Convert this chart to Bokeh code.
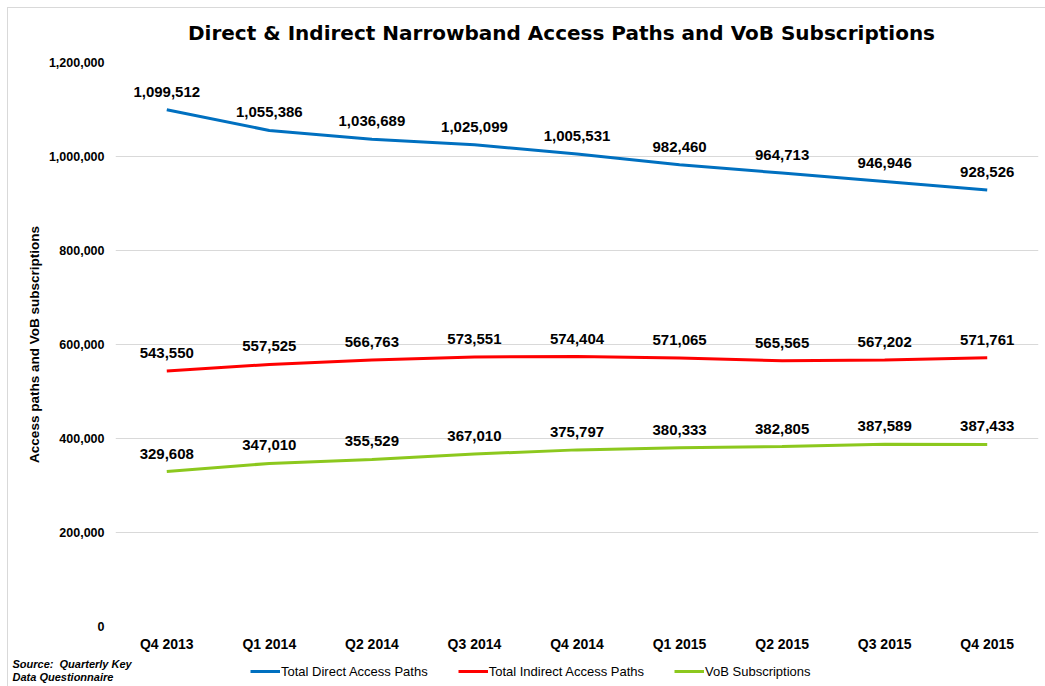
from bokeh.plotting import figure
from bokeh.layouts import column
from bokeh.models import (ColumnDataSource, FixedTicker, NumeralTickFormatter, Legend,
                          LegendItem, Label, Range1d)
from bokeh.core.properties import value
from bokeh.embed import file_html
from bokeh.resources import INLINE

title_text = "Direct & Indirect Narrowband Access Paths and VoB Subscriptions"
source_lines = ["Source:\u00a0 Quarterly Key", "Data Questionnaire"]
quarters = ["Q4 2013", "Q1 2014", "Q2 2014", "Q3 2014", "Q4 2014",
            "Q1 2015", "Q2 2015", "Q3 2015", "Q4 2015"]
direct = [1099512, 1055386, 1036689, 1025099, 1005531, 982460, 964713, 946946, 928526]
indirect = [543550, 557525, 566763, 573551, 574404, 571065, 565565, 567202, 571761]
vob = [329608, 347010, 355529, 367010, 375797, 380333, 382805, 387589, 387433]
y_ticks = [0, 200000, 400000, 600000, 800000, 1000000, 1200000]

series = [
    ("Total Direct Access Paths", direct, "#0070C0"),
    ("Total Indirect Access Paths", indirect, "#FF0000"),
    ("VoB Subscriptions", vob, "#8CC81E"),
]


def strip(height):
    s = figure(width=1037, height=height, x_range=Range1d(0, 1), y_range=Range1d(0, 1),
               output_backend="svg", toolbar_location=None, x_axis_type=None,
               y_axis_type=None, min_border=0, outline_line_color=None)
    s.frame_align = False
    s.xgrid.visible = False
    s.ygrid.visible = False
    return s


# header with title
h = strip(46)
h.add_layout(Label(x=553, y=22, x_units="screen", y_units="screen", text=title_text,
                   text_font="DejaVu Sans", text_font_size="20px", text_font_style="bold",
                   text_align="center", text_baseline="middle", text_color="#000000"))

# main chart
p = figure(width=1037, height=600, x_range=quarters, y_range=Range1d(0, 1200000),
           output_backend="svg", toolbar_location=None,
           min_border_left=107, min_border_right=7, min_border_top=8, min_border_bottom=28)
p.frame_align = False
p.outline_line_color = None
p.background_fill_color = "white"

for name, vals, color in series:
    src = ColumnDataSource(dict(x=quarters, y=vals, lab=["{:,}".format(v) for v in vals]))
    p.line("x", "y", source=src, line_color=color, line_width=3)
    p.text("x", "y", text="lab", source=src, text_align="center", text_baseline="middle",
           y_offset=-18, text_font=value("Liberation Sans"), text_font_size="15px",
           text_font_style="bold", text_color="#000000")

p.yaxis.ticker = FixedTicker(ticks=y_ticks)
p.yaxis.formatter = NumeralTickFormatter(format="0,0")
p.yaxis.axis_label = "Access paths and VoB subscriptions"
p.yaxis.axis_label_text_font = "Liberation Sans"
p.yaxis.axis_label_text_font_size = "13.5px"
p.yaxis.axis_label_text_font_style = "bold"
p.yaxis.axis_label_text_color = "#000000"
p.yaxis.axis_label_standoff = 4
for ax in (p.xaxis, p.yaxis):
    ax.axis_line_color = None
    ax.major_tick_line_color = None
    ax.minor_tick_line_color = None
    ax.major_tick_out = 0
    ax.major_tick_in = 0
    ax.major_label_text_font = "Liberation Sans"
    ax.major_label_text_font_style = "bold"
    ax.major_label_text_color = "#000000"
p.yaxis.major_label_text_font_size = "12.5px"
p.xaxis.major_label_text_font_size = "14px"
p.yaxis.major_label_standoff = 11
p.xaxis.major_label_standoff = 9

p.xgrid.grid_line_color = None
p.ygrid.grid_line_color = "#D9D9D9"
p.ygrid.grid_line_width = 1

# footer: legend + source note
f = strip(32)
items = []
for name, vals, color in series:
    r = f.line(x=[-5, -4], y=[-5, -5], line_color=color, line_width=3)
    items.append(LegendItem(label=name, renderers=[r]))
legend = Legend(items=items, orientation="horizontal", location=(242, 7),
                padding=0, margin=0, spacing=30, glyph_width=30, glyph_height=16,
                label_standoff=1, label_text_font="Liberation Sans", label_text_font_size="13px",
                label_text_color="#000000", border_line_color=None, background_fill_alpha=0)
f.add_layout(legend, "center")

for txt, yy in zip(source_lines, [23, 10]):
    f.add_layout(Label(x=4, y=yy, x_units="screen", y_units="screen", text=txt,
                       text_font="Liberation Sans", text_font_size="11px",
                       text_font_style="bold italic", text_baseline="middle",
                       text_color="#000000"))

layout = column(h, p, f, spacing=0)
layout.styles = {"margin-left": "8px", "margin-top": "8px", "outline": "1px solid #D9D9D9"}

open("out.html", "w").write(file_html(layout, INLINE))
